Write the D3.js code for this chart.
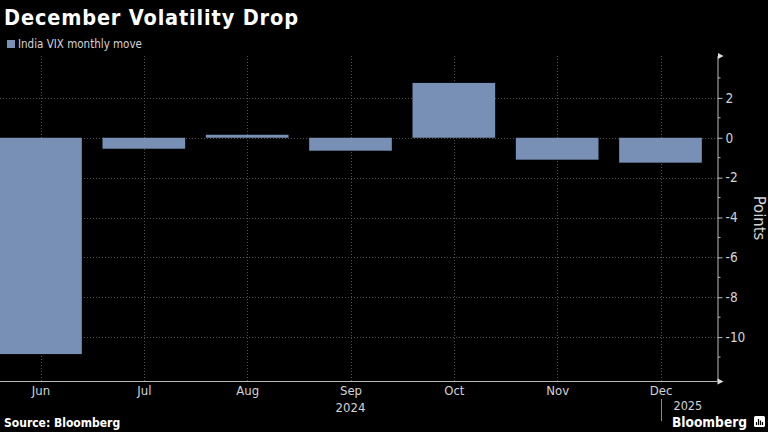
<!DOCTYPE html>
<html><head><meta charset="utf-8">
<script src="https://cdn.jsdelivr.net/npm/d3@7"></script>
<style>
html,body{margin:0;padding:0;background:#000;}
svg{display:block;}
text{font-family:"DejaVu Sans Condensed","DejaVu Sans",sans-serif;}
</style></head>
<body>
<svg id="chart" width="768" height="432"></svg>
<script>
const months = ["Jun","Jul","Aug","Sep","Oct","Nov","Dec"];
const vixMove = [-10.85, -0.55, 0.15, -0.65, 2.75, -1.1, -1.25];
const yTicks = [2, 0, -2, -4, -6, -8, -10];
const yMinorTicks = [3, 1, -1, -3, -5, -7, -9, -11];
const title = "December Volatility Drop";
const legendLabel = "India VIX monthly move";
const yLabel = "Points";
const yearLabels = [{at:"Sep", text:"2024"}];
const nextYearLabel = {at:"Dec", text:"2025"};

(function(){
const svg = d3.select("#chart");
const W = 768, H = 432;
svg.append("rect").attr("width", W).attr("height", H).attr("fill", "#000");

const axisX = 717.5, yTop = 56, yBottom = 381;
const y = d3.scaleLinear().domain([4.1, -12.2]).range([yTop, yBottom]);
const x = d3.scalePoint().domain(months).range([40.5, 660.5]);
const bw = x.step() * 0.8;

const barColor = "#7890b5";
const gridColor = "#505050";
const textColor = "#d4d4d4";

// horizontal gridlines
svg.append("g").selectAll("line").data(yTicks).join("line")
  .attr("x1", 0).attr("x2", axisX)
  .attr("y1", d => Math.round(y(d)) + 0.5).attr("y2", d => Math.round(y(d)) + 0.5)
  .attr("stroke", gridColor).attr("stroke-width", 1).attr("stroke-dasharray", "1,2");

// vertical gridlines
svg.append("g").selectAll("line").data(months).join("line")
  .attr("x1", d => Math.round(x(d)) + 0.5).attr("x2", d => Math.round(x(d)) + 0.5)
  .attr("y1", yTop).attr("y2", yBottom)
  .attr("stroke", gridColor).attr("stroke-width", 1).attr("stroke-dasharray", "1,2");

// bars
svg.append("g").selectAll("rect").data(months).join("rect")
  .attr("x", d => x(d) - bw / 2)
  .attr("width", bw)
  .attr("y", (d, i) => y(Math.max(0, vixMove[i])))
  .attr("height", (d, i) => Math.abs(y(vixMove[i]) - y(0)))
  .attr("fill", barColor);

// right y axis
const yAxis = d3.axisRight(y).tickValues(yTicks).tickSize(5).tickPadding(3)
  .tickFormat(d => String(d));
const gy = svg.append("g").attr("transform", `translate(${axisX},0)`).call(yAxis);
gy.select(".domain").attr("stroke", "#bbb").attr("d", `M0.5,${yTop}V${yBottom}`);
gy.selectAll(".tick line").attr("stroke", "#bbb");
gy.selectAll(".tick text").attr("fill", textColor).attr("font-size", 13.5)
  .attr("font-family", "'DejaVu Sans Condensed','DejaVu Sans',sans-serif");
gy.append("g").selectAll("line").data(yMinorTicks).join("line")
  .attr("x1", 0.5).attr("x2", 3).attr("y1", d => y(d)).attr("y2", d => y(d))
  .attr("stroke", "#bbb");
gy.append("path").attr("d", `M0.5,${yTop - 3}L6,${yTop}L0.5,${yTop + 3}Z`).attr("fill", "#ddd");

// bottom x axis
const xAxis = d3.axisBottom(x).tickSize(0).tickPadding(5);
const gx = svg.append("g").attr("transform", `translate(0,${yBottom})`).call(xAxis);
gx.select(".domain").attr("stroke", "#bbb").attr("d", `M0,0.5H${axisX}`);
gx.selectAll(".tick text").attr("fill", textColor).attr("font-size", 13)
  .attr("font-family", "'DejaVu Sans Condensed','DejaVu Sans',sans-serif");
gx.append("path").attr("d", `M${axisX},-2.5L${axisX + 6},0.5L${axisX},3.5Z`).attr("fill", "#ddd");

// year labels
svg.append("g").selectAll("text").data(yearLabels).join("text")
  .attr("x", d => x(d.at)).attr("y", 412)
  .attr("text-anchor", "middle").attr("fill", textColor).attr("font-size", 13)
  .text(d => d.text);
const sepX = Math.round(x(nextYearLabel.at)) + 0.5;
svg.append("line").attr("x1", sepX).attr("x2", sepX).attr("y1", 399).attr("y2", 421)
  .attr("stroke", "#888");
svg.append("text").attr("x", sepX + 12).attr("y", 410).attr("fill", textColor)
  .attr("font-size", 12.5).text(nextYearLabel.text);

// y label
svg.append("text").attr("transform", `translate(754,218) rotate(90)`)
  .attr("text-anchor", "middle").attr("fill", textColor).attr("font-size", 16.5)
  .text(yLabel);

// title
svg.append("text").attr("x", 4).attr("y", 25).attr("fill", "#fff")
  .attr("font-size", 21.5).attr("font-weight", "bold")
  .attr("textLength", 294).attr("lengthAdjust", "spacing")
  .attr("font-family", "'DejaVu Sans',sans-serif").text(title);

// legend
svg.append("rect").attr("x", 7).attr("y", 40).attr("width", 8).attr("height", 8).attr("fill", barColor);
svg.append("text").attr("x", 18).attr("y", 48).attr("fill", textColor).attr("font-size", 11.5)
  .text(legendLabel);

// source
svg.append("text").attr("x", 4).attr("y", 427).attr("fill", "#fff").attr("font-size", 12)
  .attr("font-weight", "bold").text("Source: Bloomberg");

// Bloomberg logo
svg.append("text").attr("x", 672).attr("y", 426.5).attr("fill", "#fff")
  .attr("font-size", 14).attr("font-weight", "bold")
  .attr("textLength", 75).attr("lengthAdjust", "spacingAndGlyphs").text("Bloomberg");
const logo = svg.append("g").attr("transform", "translate(754,416)");
logo.append("rect").attr("width", 11).attr("height", 11).attr("rx", 1.5).attr("fill", "#fff");
logo.append("path").attr("d", "M2.5,9V6M4.5,9V3M6.5,9V4.5M8.5,9V6").attr("stroke", "#000").attr("stroke-width", 1.2);
})();
</script>
</body></html>
